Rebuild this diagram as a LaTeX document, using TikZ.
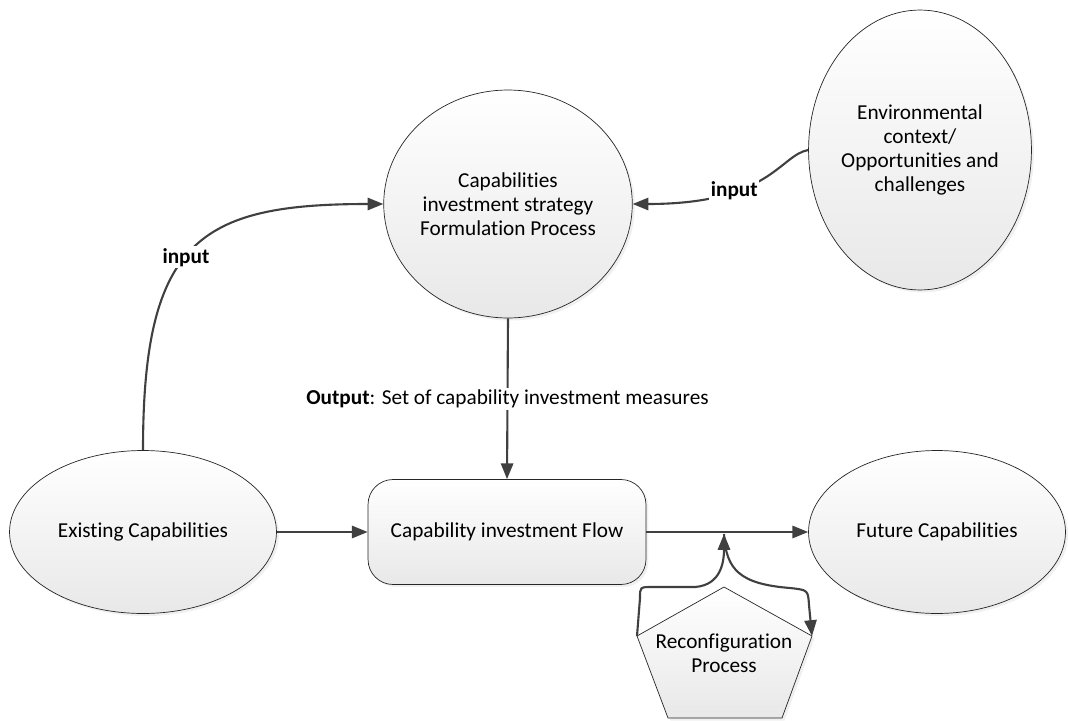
\documentclass[tikz,border=0pt]{standalone}
\usepackage{fontspec}
\setmainfont[Ligatures=NoCommon]{Carlito}
\usetikzlibrary{shapes,arrows.meta,shadows}

\begin{document}
\begin{tikzpicture}[x=0.02cm, y=-0.02cm, font=\fontsize{12.1}{13.7}\selectfont,
  blob/.style={ellipse,draw=black!85,line width=.4pt,top color=white,bottom color=black!9,inner sep=0pt,align=center,
    drop shadow={opacity=.12,shadow xshift=.5mm,shadow yshift=-.5mm}},
  flowbox/.style={rectangle,rounded corners=.5cm,draw=black!85,line width=.4pt,top color=white,bottom color=black!9,
    drop shadow={opacity=.12,shadow xshift=.5mm,shadow yshift=-.5mm}},
  conn/.style={draw=black!75,line width=1.2pt},
  >={Triangle[length=9pt,width=7pt]},
  lbl/.style={fill=white,inner sep=1pt,font=\fontsize{12.1}{13.7}\selectfont\bfseries}]
  \useasboundingbox (0,0) rectangle (1068,720);

  \node[blob,minimum width=4.96cm,minimum height=4.56cm] (strat) at (508,204) {Capabilities\\investment strategy\\Formulation Process};
  \node[blob,minimum width=4.02cm,minimum height=5.6cm] (env) at (920,150) {Environmental\\context/\\Opportunities and\\challenges};
  \node[blob,minimum width=5.34cm,minimum height=3.26cm] (exist) at (143,532) {Existing Capabilities};
  \node[flowbox,minimum width=5.56cm,minimum height=2.1cm] (flow) at (507,532) {Capability investment Flow};
  \node[blob,minimum width=5.14cm,minimum height=3.26cm] (fut) at (937,532) {Future Capabilities};

  % reconfiguration pentagon
  \coordinate (pt) at (724,587);
  \coordinate (pl) at (637,636);
  \coordinate (pr) at (812,636);
  \coordinate (pbl) at (668,718);
  \coordinate (pbr) at (782,718);
  \draw[draw=black!85,line width=.4pt,top color=white,bottom color=black!9,
    drop shadow={opacity=.12,shadow xshift=.5mm,shadow yshift=-.5mm}] (pt) -- (pr) -- (pbr) -- (pbl) -- (pl) -- cycle;
  \node[align=center] (reconf) at (724,653) {Reconfiguration\\Process};
  \coordinate (mrg) at (724,534);

  \draw[conn,->] (exist.north) .. controls (143,240) and (200,204) .. node[lbl,pos=.46] {input} (strat.west);
  \draw[conn,->] (env.west) .. controls (780,155) and (770,204) .. node[lbl,pos=.66] {input} (strat.east);
  \draw[conn,->] (strat.south) -- node[fill=white,inner sep=1pt] {{\bfseries Output}: Set of capability investment measures} (flow.north);
  \draw[conn,->] (exist.east) -- (flow.west);
  \draw[conn,->] (flow.east) -- (fut.west);
  \draw[conn,->] (pl) -- (640,598) .. controls (640,587) .. (652,587) -- (695,587) .. controls (722,585) and (724,560) .. (mrg);
  \draw[conn,->] (mrg) .. controls (726,570) and (740,584) .. (790,588) .. controls (808,590) .. (809,605) -- (pr);
\end{tikzpicture}
\end{document}
